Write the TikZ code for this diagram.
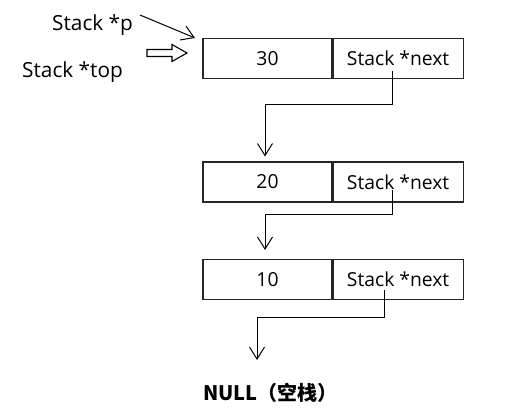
\documentclass[tikz,border=0pt]{standalone}
\usepackage{fontspec}
\setmainfont{Open Sans}
\newfontfamily\cjk{Noto Sans CJK SC}
\usetikzlibrary{arrows.meta,calc}
\begin{document}
\begin{tikzpicture}[x=1pt,y=-1pt,
  cell/.style={draw=black!85,line width=1.1pt,minimum height=40pt,inner sep=0pt,font=\fontsize{19.3}{21}\selectfont},
  lcell/.style={cell,minimum width=129pt},
  rcell/.style={cell,minimum width=130pt},
  conn/.style={draw=black,line width=1pt,-{Straight Barb[length=12pt,width=15pt,line width=1pt]}},
  lbl/.style={anchor=west,inner sep=0pt,font=\fontsize{20.8}{23}\selectfont}]
\useasboundingbox (0,0) rectangle (520,412);
% boxes
\node[lcell] (v1) at (267.5,58.5) {30};
\node[rcell,anchor=west] (n1) at (v1.east) {Stack *next};
\node[lcell] (v2) at (267.5,182) {20};
\node[rcell,anchor=west] (n2) at (v2.east) {Stack *next};
\node[lcell] (v3) at (267.5,279.5) {10};
\node[rcell,anchor=west] (n3) at (v3.east) {Stack *next};
% labels
\node[lbl] (lp) at (52,25) {Stack *p};
\node[lbl] (ltop) at (22,72) {Stack *top};
\node[anchor=west,inner sep=0pt,font=\cjk\bfseries\fontsize{20}{22}\selectfont] (null) at (203,393) {NULL（空栈）};
% pointer p
\coordinate (ps) at (140,15);
\coordinate (pe) at (195,38);
\draw[conn] (ps) -- (pe);
% hollow arrow for top
\coordinate (ta) at (147,53);
\draw[line width=1.1pt,line join=miter] (ta) ++(0,-3.5) -- ++(25,0) -- ++(0,-5) -- (187,53) -- (172,61.5) -- ++(0,-5) -- (147,56.5) -- cycle;
% next connectors
\draw[conn,shorten >=5pt] ([xshift=-6pt,yshift=-13pt]n1.center) -- ++(0,33) -| ([xshift=-2.5pt]v2.north);
\draw[conn,shorten >=9pt] ([xshift=-6pt,yshift=-8pt]n2.center) -- ++(0,24) -| ([xshift=-2.5pt]v3.north);
\coordinate (e3) at (257,360);
\draw[conn] ([xshift=-14pt,yshift=-10pt]n3.center) -- ++(0,28) -| (e3);
\end{tikzpicture}
\end{document}
